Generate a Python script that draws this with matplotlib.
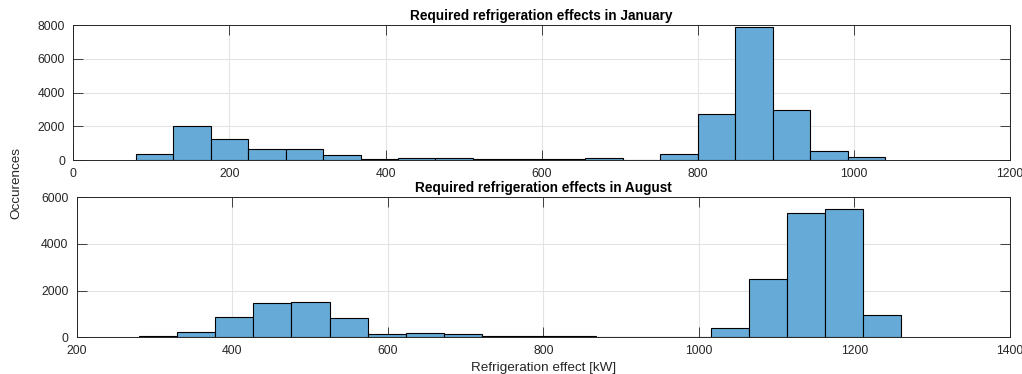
import matplotlib
matplotlib.use("Agg")
import matplotlib.pyplot as plt
import numpy as np

plt.rcParams['font.family'] = ['Liberation Sans', 'DejaVu Sans']

# January histogram
jan_edges = [80, 128, 176, 224, 272, 320, 368, 416, 464, 512, 560, 608, 656, 704,
             752, 800, 848, 896, 944, 992, 1040]
jan_counts = [360, 1990, 1230, 670, 650, 280, 60, 100, 90, 40, 40, 40, 140, 20,
              376, 2710, 7900, 2950, 550, 160]

# August histogram
aug_edges = [280, 329, 378, 427, 476, 525, 574, 623, 672, 721, 770, 819, 868, 917,
             966, 1015, 1064, 1113, 1162, 1211, 1260]
aug_counts = [70, 230, 860, 1460, 1510, 830, 130, 170, 130, 40, 40, 70, 5, 15,
              15, 414, 2500, 5340, 5510, 943]

jan_xticks = [0, 200, 400, 600, 800, 1000, 1200]
jan_yticks = [0, 2000, 4000, 6000, 8000]
aug_xticks = [200, 400, 600, 800, 1000, 1200, 1400]
aug_yticks = [0, 2000, 4000, 6000]

FILL = '#66AAD7'
DARK = '#262626'

fig = plt.figure(figsize=(10.22, 3.74), dpi=100)
W, H = 1022, 374

def px_axes(l, r, t, b):
    return fig.add_axes([l / W, (H - b) / H, (r - l) / W, (b - t) / H])

ax1 = px_axes(73.3, 1010, 25.3, 160)
ax2 = px_axes(76.8, 1010, 197.3, 337.3)

def style(ax, edges, counts, xticks, yticks, title):
    ax.hist(edges[:-1], bins=edges, weights=counts, color=FILL,
            edgecolor='black', linewidth=0.8, zorder=2)
    ax.set_xlim(xticks[0], xticks[-1])
    ax.set_ylim(yticks[0], yticks[-1])
    ax.set_xticks(xticks)
    ax.set_yticks(yticks)
    ax.set_axisbelow(True)
    ax.grid(True, color='#e3e3e3', linewidth=0.8)
    ax.tick_params(direction='in', length=7, width=0.6, colors=DARK,
                   top=True, right=True, labelsize=8.8)
    ax.tick_params(axis='x', pad=5.5)
    ax.tick_params(axis='y', pad=6)
    for s in ax.spines.values():
        s.set_color(DARK)
        s.set_linewidth(0.7)
        s.set_zorder(3)
    ax.set_title(title, fontsize=9.8, fontweight='bold', pad=3.5, color='black')

style(ax1, jan_edges, jan_counts, jan_xticks, jan_yticks,
      'Required refrigeration effects in January')
style(ax2, aug_edges, aug_counts, aug_xticks, aug_yticks,
      'Required refrigeration effects in August')

fig.text(16.7 / W, (H - 183) / H, 'Occurences', rotation=90, ha='center',
         va='center', fontsize=9.7, color=DARK)
ax2.set_xlabel('Refrigeration effect [kW]', fontsize=9.7, color=DARK, labelpad=3.5)

fig.savefig('out.png', dpi=100)
